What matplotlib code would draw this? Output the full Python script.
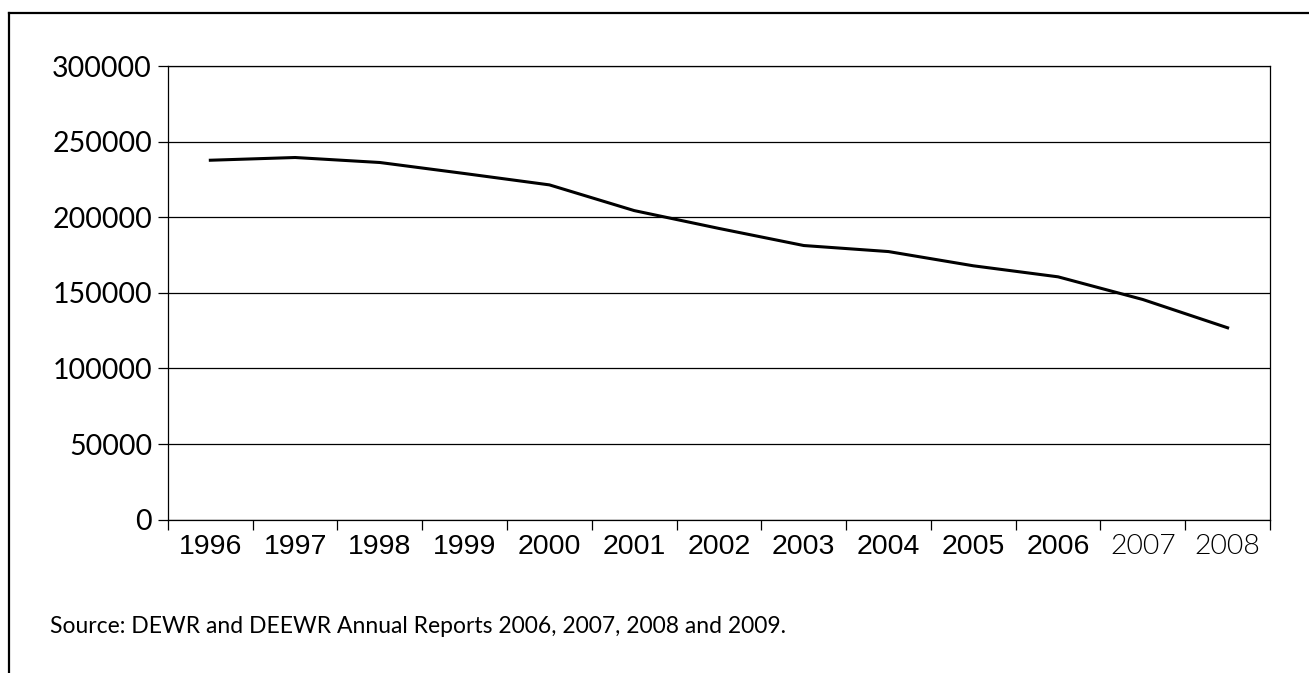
import numpy as np
import matplotlib
matplotlib.use("Agg")
import matplotlib.pyplot as plt
from matplotlib.lines import Line2D

# Yearly totals, 1996-2008
years = ["1996", "1997", "1998", "1999", "2000", "2001", "2002",
         "2003", "2004", "2005", "2006", "2007", "2008"]
totals = [237700, 239500, 236200, 228900, 221400, 204400, 192600,
          181300, 177300, 167900, 160600, 145600, 126900]
y_ticks = [0, 50000, 100000, 150000, 200000, 250000, 300000]
source_note = "Source: DEWR and DEEWR Annual Reports 2006, 2007, 2008 and 2009."

fig = plt.figure(figsize=(13.09, 6.73), dpi=100)
ax = fig.add_axes([0.1283, 0.2278, 0.8419, 0.6741])

x = np.arange(len(years))
ax.plot(x, totals, color="black", lw=2.2, solid_joinstyle="round")

ax.set_xlim(-0.5, len(years) - 0.5)
ax.set_ylim(0, 300000)

# category boundaries carry the ticks, labels sit in the middle
ax.set_xticks(np.arange(len(years) + 1) - 0.5)
ax.set_xticklabels([])
ax.set_xticks(x, minor=True)
ax.set_xticklabels(years, minor=True)
ax.tick_params(axis="x", which="major", direction="out", length=7.5, width=0.9, color="black")
ax.tick_params(axis="x", which="minor", length=0, pad=10)
for i, lab in enumerate(ax.get_xticklabels(minor=True)):
    if i < 11:
        lab.set_fontfamily("Liberation Sans")
        lab.set_fontsize(20.5)
    else:
        lab.set_fontfamily("Lato")
        lab.set_fontsize(20.5)
        lab.set_fontweight(300)

ax.set_yticks(y_ticks)
ax.set_yticklabels([str(v) for v in y_ticks], fontfamily="Lato", fontsize=20.5)
ax.tick_params(axis="y", direction="out", length=7, width=0.9, pad=4.5, color="black")

ax.grid(True, axis="y", color="black", lw=0.9)
ax.set_axisbelow(True)
for sp in ax.spines.values():
    sp.set_color("black")
    sp.set_linewidth(0.9)

fig.text(50 / 1309, 1 - 633 / 673, source_note, fontfamily="Lato",
         fontsize=16.5, va="baseline", ha="left")

# frame lines along the top and left edges
fig.add_artist(Line2D([9 / 1309, 1.0], [1 - 13 / 673, 1 - 13 / 673],
                      transform=fig.transFigure, color="black", lw=1.6))
fig.add_artist(Line2D([9 / 1309, 9 / 1309], [0.0, 1 - 13 / 673],
                      transform=fig.transFigure, color="black", lw=1.6))

fig.savefig("out.png", dpi=100)
